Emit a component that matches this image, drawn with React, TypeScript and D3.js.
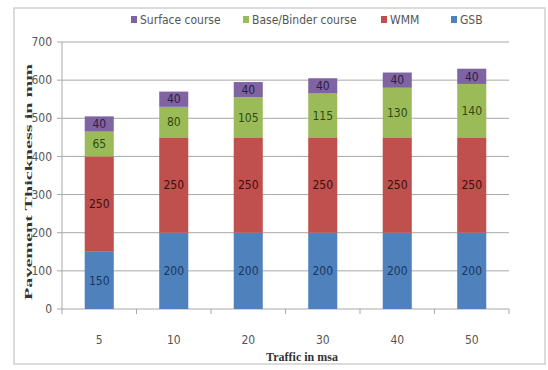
import React from "react";
import * as d3 from "d3";

const categories = ["5", "10", "20", "30", "40", "50"];
const gsb = [150, 200, 200, 200, 200, 200];
const wmm = [250, 250, 250, 250, 250, 250];
const baseBinder = [65, 80, 105, 115, 130, 140];
const surface = [40, 40, 40, 40, 40, 40];
const yTicks = [0, 100, 200, 300, 400, 500, 600, 700];

const seriesNames = ["GSB", "WMM", "Base/Binder course", "Surface course"];
const seriesValues = [gsb, wmm, baseBinder, surface];
const fills = ["#4F81BD", "#C0504D", "#9BBB59", "#8064A2"];
const labelColors = ["#17375E", "#3B0F0E", "#2E4A12", "#2B1E45"];

const W = 548;
const H = 370;
const left = 62;
const right = 509;
const top = 42;
const bottom = 309;

const narrow = "'Liberation Sans Narrow', 'DejaVu Sans Condensed', 'Roboto Condensed', sans-serif";

export default function App() {
  const x = d3.scaleBand<string>().domain(categories).range([left, right]).paddingInner(0.61).paddingOuter(0.305);
  const y = d3.scaleLinear().domain([0, 700]).range([bottom, top]);

  const rows = categories.map((c, i) => {
    const r: any = { cat: c };
    seriesNames.forEach((s, k) => (r[s] = seriesValues[k][i]));
    return r;
  });
  const stack = d3.stack<any>().keys(seriesNames)(rows);

  const legendItems = [
    { name: "Surface course", color: fills[3], x: 131 },
    { name: "Base/Binder course", color: fills[2], x: 243 },
    { name: "WMM", color: fills[1], x: 381 },
    { name: "GSB", color: fills[0], x: 451 },
  ];

  const step = x.step();
  const boundaries = d3.range(categories.length + 1).map((i) => left + i * step);

  return (
    <svg width={W} height={H} style={{ position: "absolute", left: 0, top: 0, background: "#fff" }}>
      <rect x={14} y={8} width={531} height={356} fill="#fff" stroke="#d0d0d0" strokeWidth={1.5} />
      {yTicks.map((t) => (
        <g key={t}>
          {t > 0 && <line x1={left} x2={right} y1={y(t)} y2={y(t)} stroke="#a8a8a8" strokeWidth={1} />}
          <line x1={left - 5} x2={left} y1={y(t)} y2={y(t)} stroke="#a8a8a8" />
          <text x={52} y={y(t)} dy="0.35em" textAnchor="end" fontFamily={narrow} fontSize={12} fill="#555">
            {t}
          </text>
        </g>
      ))}
      <line x1={left} x2={left} y1={top} y2={bottom} stroke="#a8a8a8" />
      <line x1={left} x2={right} y1={bottom} y2={bottom} stroke="#a8a8a8" />
      {boundaries.map((b, i) => (
        <line key={i} x1={b} x2={b} y1={bottom} y2={bottom + 5} stroke="#a8a8a8" />
      ))}
      {stack.map((layer, k) => (
        <g key={layer.key}>
          {layer.map((d: any, i: number) => (
            <g key={i}>
              <rect x={x(categories[i])!} y={y(d[1])} width={x.bandwidth()} height={y(d[0]) - y(d[1])} fill={fills[k]} />
              <text
                x={x(categories[i])! + x.bandwidth() / 2}
                y={(y(d[0]) + y(d[1])) / 2}
                dy="0.35em"
                textAnchor="middle"
                fontFamily={narrow}
                fontSize={12}
                fill={labelColors[k]}
              >
                {seriesValues[k][i]}
              </text>
            </g>
          ))}
        </g>
      ))}
      {categories.map((c) => (
        <text key={c} x={x(c)! + x.bandwidth() / 2} y={340} dy="0.35em" textAnchor="middle" fontFamily={narrow} fontSize={12} fill="#555">
          {c}
        </text>
      ))}
      {legendItems.map((l) => (
        <g key={l.name}>
          <rect x={l.x} y={16} width={6} height={7} fill={l.color} />
          <text x={l.x + 9} y={20} dy="0.35em" fontFamily={narrow} fontSize={12} fill="#555">
            {l.name}
          </text>
        </g>
      ))}
      <text x={302} y={357} dy="0.35em" textAnchor="middle" fontFamily="'Liberation Serif', serif" fontWeight="bold" fontSize={12} fill="#333">
        Traffic in msa
      </text>
      <text
        transform={`translate(28,182) rotate(-90)`}
        textAnchor="middle"
        dy="0.35em"
        fontFamily="'Liberation Serif', serif"
        fontWeight="bold"
        fontSize={11}
        fill="#333"
        textLength={236}
        lengthAdjust="spacingAndGlyphs"
      >
        Pavement Thickness in mm
      </text>
    </svg>
  );
}
